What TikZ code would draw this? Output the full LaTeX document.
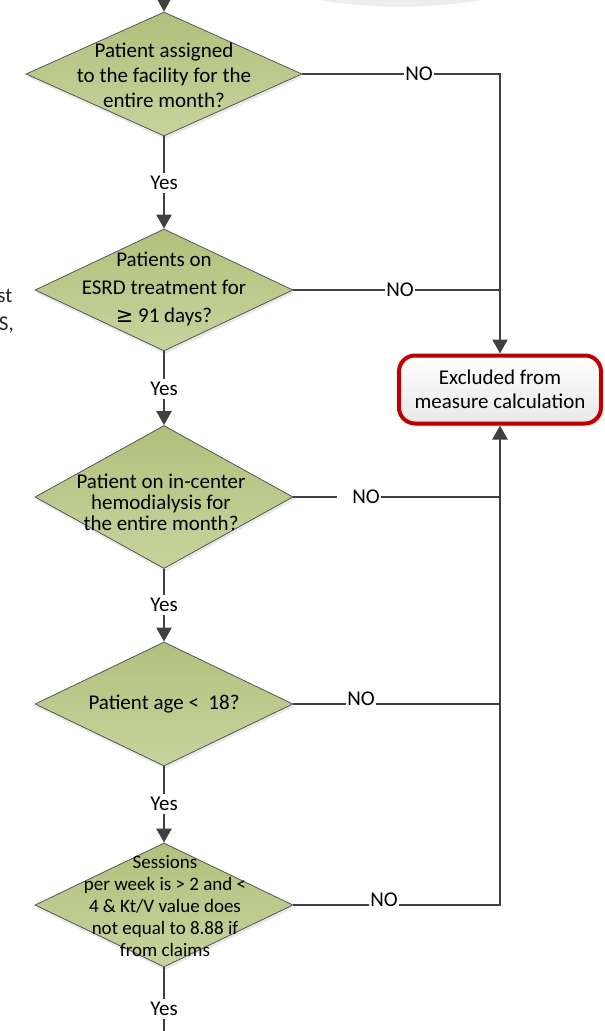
\documentclass[tikz,border=0pt]{standalone}
\usepackage{fontspec}
\setmainfont{Carlito}
\newfontfamily\symfont{DejaVu Sans}
\usetikzlibrary{shapes.geometric,arrows.meta,shadows}
\definecolor{conn}{RGB}{64,64,64}
\definecolor{diatop}{RGB}{178,192,124}
\definecolor{diabot}{RGB}{199,211,157}
\definecolor{diaedge}{RGB}{85,85,85}
\definecolor{exred}{RGB}{192,0,0}
\begin{document}
\begin{tikzpicture}[x=1pt,y=-1pt,
  dia/.style={diamond, draw=diaedge, line width=0.8pt, top color=diatop, bottom color=diabot,
    inner sep=0pt, minimum width=258pt,
    drop shadow={opacity=0.18, shadow xshift=1pt, shadow yshift=-3pt}},
  qtext/.style={align=center, inner sep=0pt, text=black},
  line/.style={draw=conn, line width=2.4pt},
  arr/.style={line, -{Triangle[width=15pt,length=14pt]}},
  yes/.style={fill=white, inner xsep=2pt, inner ysep=3pt, font=\fontsize{21}{25}\selectfont},
  nolab/.style={fill=white, inner xsep=1pt, inner ysep=2pt, font=\fontsize{21}{25}\selectfont},
  excl/.style={rectangle, rounded corners=16pt, draw=exred, line width=4pt, top color=white,
    bottom color=black!9, minimum width=202pt, minimum height=68pt, align=center,
    font=\fontsize{21}{24}\selectfont,
    drop shadow={opacity=0.2, shadow xshift=2pt, shadow yshift=-3pt}}
]
\useasboundingbox (0,0) rectangle (605,1031);

% faint shadow fragment of a shape above
\fill[black!7] (320,0) .. controls (370,9) and (430,9) .. (482,0) -- cycle;

% cut-off text fragments at the left edge
\node[anchor=base east, inner sep=0pt, font=\fontsize{21}{25}\selectfont, text=black!85] (f1) at (12.5,302) {st};
\node[anchor=base east, inner sep=0pt, font=\fontsize{21}{25}\selectfont, text=black!85] (f2) at (14,330) {S,};

% decision diamonds
\node[dia, minimum width=276pt, minimum height=124pt] (d1) at (164,74) {};
\node[dia, minimum height=122pt] (d2) at (164,290) {};
\node[dia, minimum height=143pt] (d3) at (164,497) {};
\node[dia, minimum height=124pt] (d4) at (164,704) {};
\node[dia, minimum height=124pt] (d5) at (164,905) {};

\node[qtext, font=\fontsize{21}{25}\selectfont] (t1) at (164,75) {Patient assigned\\to the facility for the\\entire month?};
\node[qtext, font=\fontsize{21}{28}\selectfont] (t2) at (164,289) {Patients on\\ESRD treatment for\\{\symfont ≥} 91 days?};
\node[qtext, font=\fontsize{21}{21}\selectfont] (t3) at (161,502) {Patient on in-center\\hemodialysis for\\the entire month?};
\node[qtext, font=\fontsize{21}{25}\selectfont] (t4) at (164,704) {Patient age <~~18?};
\node[qtext, font=\fontsize{19}{22}\selectfont] (t5) at (165,906) {Sessions\\per week is > 2 and <\\4 \& Kt/V value does\\not equal to 8.88 if\\from claims};

% exclusion box
\node[excl] (ex) at (500,389.5) {Excluded from\\measure calculation};

% coordinates
\coordinate (top) at (164,-4);
\coordinate (bot) at (164,1040);
\coordinate (b1) at (500,74);
\coordinate (b2) at (500,290);
\coordinate (b3) at (500,497);
\coordinate (b4) at (500,704);
\coordinate (b5) at (500,905);

% connectors
\draw[arr] (top) -- (d1.north);
\draw[arr] (d1.south) -- (d2.north);
\draw[arr] (d2.south) -- (d3.north);
\draw[arr] (d3.south) -- (d4.north);
\draw[arr] (d4.south) -- (d5.north);
\draw[line] (d5.south) -- (bot);
\draw[arr] (d1.east) -- (b1) -- (ex.north);
\draw[line] (d2.east) -- (b2);
\draw[line] (d3.east) -- (b3);
\draw[line] (d4.east) -- (b4);
\draw[arr] (d5.east) -- (b5) -- (ex.south);

% labels
\node[yes] (y1) at (164,183) {Yes};
\node[yes] (y2) at (164,389) {Yes};
\node[yes] (y3) at (164,605) {Yes};
\node[yes] (y4) at (164,804) {Yes};
\node[yes] (y5) at (164,1009) {Yes};
\node[nolab] (n1) at (419,74) {NO};
\node[nolab] (n2) at (400,290) {NO};
\node[nolab, anchor=east] (n3) at (381,497) {\hspace*{14pt}NO};
\node[nolab, anchor=base] (n4) at (361,705) {NO};
\node[nolab, anchor=base] (n5) at (384,906) {NO};
\end{tikzpicture}
\end{document}
